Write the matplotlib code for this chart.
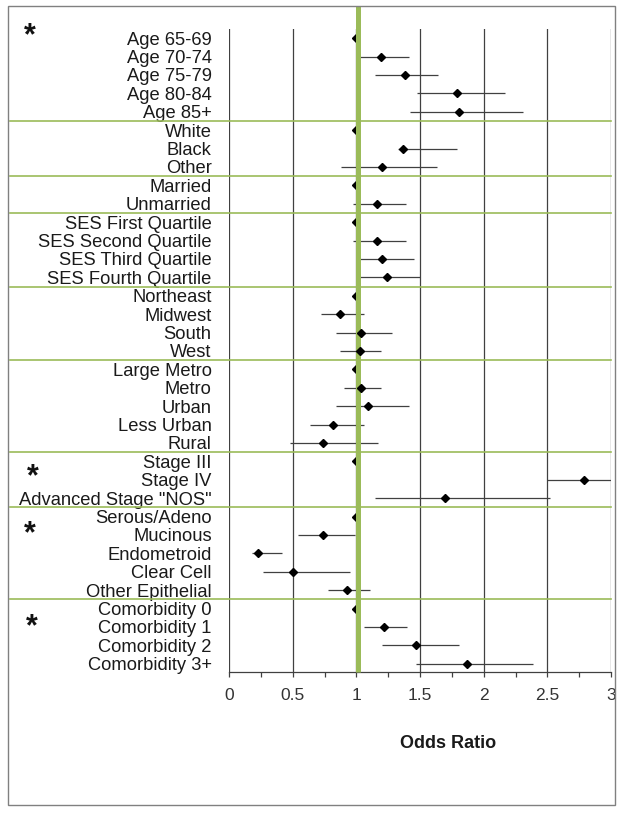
import numpy as np
import matplotlib
matplotlib.use('Agg')
import matplotlib.pyplot as plt
import matplotlib.transforms as mtransforms
from matplotlib.patches import Rectangle

plt.rcParams['font.family'] = ['Liberation Sans', 'DejaVu Sans']

nan = np.nan

# Datos
labels = ['Age 65-69', 'Age 70-74', 'Age 75-79', 'Age 80-84', 'Age 85+',
          'White', 'Black', 'Other',
          'Married', 'Unmarried',
          'SES First Quartile', 'SES Second Quartile', 'SES Third Quartile', 'SES Fourth Quartile',
          'Northeast', 'Midwest', 'South', 'West',
          'Large Metro', 'Metro', 'Urban', 'Less Urban', 'Rural',
          'Stage III', 'Stage IV', 'Advanced Stage "NOS"',
          'Serous/Adeno', 'Mucinous', 'Endometroid', 'Clear Cell', 'Other Epithelial',
          'Comorbidity 0', 'Comorbidity 1', 'Comorbidity 2', 'Comorbidity 3+']

odds = [1.0, 1.19, 1.38, 1.79, 1.81,
        1.0, 1.37, 1.20,
        1.0, 1.16,
        1.0, 1.16, 1.20, 1.24,
        1.0, 0.87, 1.035, 1.03,
        1.0, 1.035, 1.09, 0.82, 0.74,
        1.0, 2.79, 1.70,
        1.0, 0.74, 0.23, 0.50, 0.93,
        1.0, 1.22, 1.47, 1.87]

ci_low = [nan, 1.03, 1.15, 1.48, 1.42,
          nan, 1.33, 0.88,
          nan, 0.97,
          nan, 0.97, 1.03, 1.03,
          nan, 0.72, 0.84, 0.87,
          nan, 0.90, 0.84, 0.64, 0.48,
          nan, 2.50, 1.15,
          nan, 0.54, 0.18, 0.27, 0.78,
          nan, 1.06, 1.20, 1.47]

ci_high = [nan, 1.41, 1.64, 2.17, 2.31,
           nan, 1.79, 1.63,
           nan, 1.39,
           nan, 1.39, 1.45, 1.50,
           nan, 1.06, 1.28, 1.19,
           nan, 1.19, 1.41, 1.06, 1.17,
           nan, 3.0, 2.52,
           nan, 0.99, 0.42, 0.95, 1.11,
           nan, 1.40, 1.81, 2.39]

group_sizes = [5, 3, 2, 4, 4, 5, 3, 5, 4]

GREEN = '#9BBB59'
GRID = '#404040'

W, H = 619, 813
fig = plt.figure(figsize=(W / 100, H / 100), dpi=100, facecolor='white')

# ejes en pixeles del original
ax_l, ax_r, ax_t, ax_b = 229, 611, 29, 672
ax = fig.add_axes([ax_l / W, (H - ax_b) / H, (ax_r - ax_l) / W, (ax_b - ax_t) / H])

rows = np.arange(len(labels))
odds = np.array(odds)
ci_low = np.array(ci_low)
ci_high = np.array(ci_high)

ax.set_xlim(0, 3)
ax.set_ylim(len(labels) - 1 + 0.45, -0.5)

# rejilla vertical
ax.set_xticks(np.arange(0, 3.01, 0.5))
ax.set_xticklabels(['0', '0.5', '1', '1.5', '2', '2.5', '3'])
ax.set_xticks(np.arange(0, 3.01, 0.25), minor=True)
ax.grid(axis='x', which='major', color=GRID, lw=0.9, zorder=0)
ax.set_axisbelow(True)

for s in ['left', 'top', 'right']:
    ax.spines[s].set_visible(False)
ax.spines['bottom'].set_color(GRID)
ax.spines['bottom'].set_linewidth(0.9)

ax.set_yticks(rows)
ax.set_yticklabels(labels, fontsize=13.2, color='#1a1a1a')
ax.tick_params(axis='y', length=0, pad=12.5)
ax.tick_params(axis='x', which='both', direction='out', length=3.5, color=GRID, width=0.9)
ax.tick_params(axis='x', which='major', labelsize=12.5, labelcolor='#333333', pad=8)

# intervalos de confianza
has_ci = ~np.isnan(ci_low)
ax.hlines(rows[has_ci], ci_low[has_ci], ci_high[has_ci], color=GRID, lw=0.9, zorder=2)

# linea verde en 1 (un poco desplazada como en el original)
offset = mtransforms.ScaledTranslation(2 / 100, 0, fig.dpi_scale_trans)
top_frac = (ax_b - 6) / (ax_b - ax_t)
ax.plot([1, 1], [0, top_frac], color=GREEN, lw=3.6, solid_capstyle='butt',
        transform=ax.get_xaxis_transform() + offset, clip_on=False, zorder=3)

# puntos
ax.plot(odds[~has_ci], rows[~has_ci], 'D', color='black', ms=4, zorder=2.5)
ax.plot(odds[has_ci], rows[has_ci], 'D', color='black', ms=4, zorder=4)

# separadores de grupos
bounds = np.cumsum(group_sizes)[:-1] - 0.5
x0 = (10 - ax_l) / (ax_r - ax_l)
for b in bounds:
    ax.plot([x0, 1.0], [b, b], color=GREEN, lw=1.2, transform=ax.get_yaxis_transform(),
            clip_on=False, zorder=3)

# asteriscos
for px, py in [(30, 44), (33, 485), (30, 542), (32, 635)]:
    fig.text(px / W, 1 - py / H, '*', fontsize=22, fontweight='bold',
             ha='center', va='baseline', color='#111111')

fig.text(448 / W, 1 - 743 / H, 'Odds Ratio', fontsize=13, fontweight='bold',
         ha='center', va='center', color='#1a1a1a')

# marco exterior
fig.patches.append(Rectangle((616 / W, 0), 3 / W, 1, transform=fig.transFigure,
                             facecolor='white', edgecolor='none', zorder=10))
fig.patches.append(Rectangle((8 / W, (H - 805) / H), (615 - 8) / W, (805 - 6) / H,
                             transform=fig.transFigure, fill=False, edgecolor='#808080',
                             lw=1, zorder=11))

fig.savefig('out.png', dpi=100, facecolor='white')
